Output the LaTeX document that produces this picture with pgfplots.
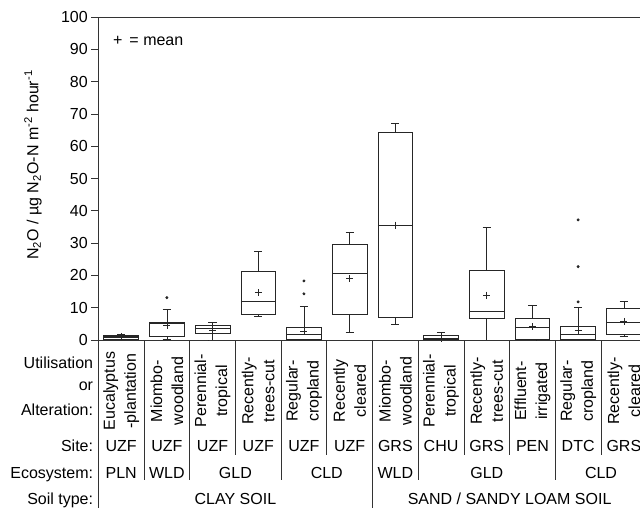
\documentclass[border=0pt]{standalone}
\usepackage{fontspec}
\setmainfont{Liberation Sans}
\usepackage{pgfplots}
\pgfplotsset{compat=1.18}
\usepgfplotslibrary{statistics}

\newcommand{\lbl}{\fontsize{16bp}{21bp}\selectfont}

\begin{document}
\begin{tikzpicture}
\begin{axis}[
    scale only axis,
    width=548.4bp, height=323bp,
    xmin=0.5, xmax=12.5,
    ymin=0, ymax=100,
    ytick={0,10,...,100},
    xtick=\empty,
    ytick pos=left,
    tick align=outside,
    major tick length=7bp,
    axis line style={black!80, line width=0.7pt},
    tick style={black!80, line width=0.7pt},
    tick label style={font=\lbl},
    /pgf/number format/assume math mode=true,
    clip=false,
    boxplot/draw direction=y,
    boxplot/box extend=0.76,
    boxplot/whisker extend=0.18,
    boxplot/every median/.style={line width=1.3pt},
    boxplot/every average/.style={/tikz/mark=+, /tikz/mark size=3.5bp},
]
\coordinate (O) at (rel axis cs:0,0);

% box plots (whiskers, quartiles, median, mean) + outliers
\addplot[black!85, line width=0.7pt, mark=*, mark size=1.1bp, boxplot prepared={draw position=1,
  lower whisker=0.1, lower quartile=0.3, median=0.9, upper quartile=1.4, upper whisker=1.8, average=1.0}]
  coordinates {};
\addplot[black!85, line width=0.7pt, mark=*, mark size=1.1bp, boxplot prepared={draw position=2,
  lower whisker=0.1, lower quartile=1.0, median=5.2, upper quartile=5.6, upper whisker=9.6, average=4.6}]
  coordinates {(2,13.1)};
\addplot[black!85, line width=0.7pt, mark=*, mark size=1.1bp, boxplot prepared={draw position=3,
  lower whisker=0.0, lower quartile=2.0, median=3.5, upper quartile=4.6, upper whisker=5.4, average=3.1}]
  coordinates {};
\addplot[black!85, line width=0.7pt, mark=*, mark size=1.1bp, boxplot prepared={draw position=4,
  lower whisker=7.2, lower quartile=7.8, median=11.9, upper quartile=21.3, upper whisker=27.5, average=14.6}]
  coordinates {};
\addplot[black!85, line width=0.7pt, mark=*, mark size=1.1bp, boxplot prepared={draw position=5,
  lower whisker=0.0, lower quartile=0.1, median=1.8, upper quartile=3.9, upper whisker=10.4, average=2.6}]
  coordinates {(5,14.3) (5,18.3)};
\addplot[black!85, line width=0.7pt, mark=*, mark size=1.1bp, boxplot prepared={draw position=6,
  lower whisker=2.3, lower quartile=7.8, median=20.5, upper quartile=29.7, upper whisker=33.2, average=19.1}]
  coordinates {};
\addplot[black!85, line width=0.7pt, mark=*, mark size=1.1bp, boxplot prepared={draw position=7,
  lower whisker=5.0, lower quartile=7.1, median=35.4, upper quartile=64.4, upper whisker=67.2, average=35.6}]
  coordinates {};
\addplot[black!85, line width=0.7pt, mark=*, mark size=1.1bp, boxplot prepared={draw position=8,
  lower whisker=0.0, lower quartile=0.05, median=0.3, upper quartile=1.4, upper whisker=2.3, average=0.6}]
  coordinates {};
\addplot[black!85, line width=0.7pt, mark=*, mark size=1.1bp, boxplot prepared={draw position=9,
  lower whisker=0.0, lower quartile=6.7, median=8.8, upper quartile=21.5, upper whisker=34.8, average=13.9}]
  coordinates {};
\addplot[black!85, line width=0.7pt, mark=*, mark size=1.1bp, boxplot prepared={draw position=10,
  lower whisker=0.0, lower quartile=0.2, median=3.9, upper quartile=6.8, upper whisker=10.6, average=4.1}]
  coordinates {};
\addplot[black!85, line width=0.7pt, mark=*, mark size=1.1bp, boxplot prepared={draw position=11,
  lower whisker=0.0, lower quartile=0.1, median=1.6, upper quartile=4.2, upper whisker=10.0, average=3.0}]
  coordinates {(11,11.8) (11,22.7) (11,37.2)};
\addplot[black!85, line width=0.7pt, mark=*, mark size=1.1bp, boxplot prepared={draw position=12,
  lower whisker=1.1, lower quartile=1.6, median=5.5, upper quartile=9.8, upper whisker=12.0, average=5.8}]
  coordinates {};

% zero marks under each box
\addplot[only marks, mark=-, mark size=4bp, line width=1pt, black!80]
  coordinates {(1,0)(2,0)(3,0)(4,0)(5,0)(6,0)(7,0)(8,0)(9,0)(10,0)(11,0)(12,0)};

\node[anchor=base west, font=\lbl, inner sep=0] at (axis cs:0.82,91.3) {+\hspace{7bp}= mean};
\node[rotate=90, font=\lbl] at (axis cs:-0.929,54.2)
  {N\textsubscript{2}O / µg N\textsubscript{2}O-N m\textsuperscript{-2} hour\textsuperscript{-1}};

% table below the axis
\draw[black!80, line width=0.7pt] (axis cs:0.5,0) -- (axis cs:0.5,-52);
\draw[black!80, line width=0.7pt] (axis cs:6.5,0) -- (axis cs:6.5,-52);
\pgfplotsinvokeforeach{1.5,2.5,4.5,7.5,10.5}{
  \draw[black!80, line width=0.7pt] (axis cs:#1,0) -- (axis cs:#1,-43.3);
}
\pgfplotsinvokeforeach{3.5,5.5,8.5,9.5,11.5}{
  \draw[black!80, line width=0.7pt] (axis cs:#1,0) -- (axis cs:#1,-35.6);
}

\node[anchor=base east, font=\lbl, inner sep=0] at (axis cs:0.39,-8.76) {Utilisation};
\node[anchor=base east, font=\lbl, inner sep=0] at (axis cs:0.39,-15.48) {or};
\node[anchor=base east, font=\lbl, inner sep=0] at (axis cs:0.39,-23.22) {Alteration:};
\node[anchor=base east, font=\lbl, inner sep=0] at (axis cs:0.39,-34.58) {Site:};
\node[anchor=base east, font=\lbl, inner sep=0] at (axis cs:0.39,-42.82) {Ecosystem:};
\node[anchor=base east, font=\lbl, inner sep=0] at (axis cs:0.39,-51.08) {Soil type:};

\node[rotate=90, font=\lbl, align=center, inner sep=0] at (axis cs:1,-15.8) {Eucalyptus\\-plantation};
\node[rotate=90, font=\lbl, align=center, inner sep=0] at (axis cs:2,-15.8) {Miombo-\\woodland};
\node[rotate=90, font=\lbl, align=center, inner sep=0] at (axis cs:3,-15.8) {Perennial-\\tropical};
\node[rotate=90, font=\lbl, align=center, inner sep=0] at (axis cs:4,-15.8) {Recently-\\trees-cut};
\node[rotate=90, font=\lbl, align=center, inner sep=0] at (axis cs:5,-15.8) {Regular-\\cropland};
\node[rotate=90, font=\lbl, align=center, inner sep=0] at (axis cs:6,-15.8) {Recently\\cleared};
\node[rotate=90, font=\lbl, align=center, inner sep=0] at (axis cs:7,-15.8) {Miombo-\\woodland};
\node[rotate=90, font=\lbl, align=center, inner sep=0] at (axis cs:8,-15.8) {Perennial-\\tropical};
\node[rotate=90, font=\lbl, align=center, inner sep=0] at (axis cs:9,-15.8) {Recently-\\trees-cut};
\node[rotate=90, font=\lbl, align=center, inner sep=0] at (axis cs:10,-15.8) {Effluent-\\irrigated};
\node[rotate=90, font=\lbl, align=center, inner sep=0] at (axis cs:11,-15.8) {Regular-\\cropland};
\node[rotate=90, font=\lbl, align=center, inner sep=0] at (axis cs:12,-15.8) {Recently-\\cleared};

\node[anchor=base, font=\lbl, inner sep=0] at (axis cs:1,-34.58) {UZF};
\node[anchor=base, font=\lbl, inner sep=0] at (axis cs:2,-34.58) {UZF};
\node[anchor=base, font=\lbl, inner sep=0] at (axis cs:3,-34.58) {UZF};
\node[anchor=base, font=\lbl, inner sep=0] at (axis cs:4,-34.58) {UZF};
\node[anchor=base, font=\lbl, inner sep=0] at (axis cs:5,-34.58) {UZF};
\node[anchor=base, font=\lbl, inner sep=0] at (axis cs:6,-34.58) {UZF};
\node[anchor=base, font=\lbl, inner sep=0] at (axis cs:7,-34.58) {GRS};
\node[anchor=base, font=\lbl, inner sep=0] at (axis cs:8,-34.58) {CHU};
\node[anchor=base, font=\lbl, inner sep=0] at (axis cs:9,-34.58) {GRS};
\node[anchor=base, font=\lbl, inner sep=0] at (axis cs:10,-34.58) {PEN};
\node[anchor=base, font=\lbl, inner sep=0] at (axis cs:11,-34.58) {DTC};
\node[anchor=base, font=\lbl, inner sep=0] at (axis cs:12,-34.58) {GRS};

\node[anchor=base, font=\lbl, inner sep=0] at (axis cs:1,-42.82) {PLN};
\node[anchor=base, font=\lbl, inner sep=0] at (axis cs:2,-42.82) {WLD};
\node[anchor=base, font=\lbl, inner sep=0] at (axis cs:3.5,-42.82) {GLD};
\node[anchor=base, font=\lbl, inner sep=0] at (axis cs:5.5,-42.82) {CLD};
\node[anchor=base, font=\lbl, inner sep=0] at (axis cs:7,-42.82) {WLD};
\node[anchor=base, font=\lbl, inner sep=0] at (axis cs:9,-42.82) {GLD};
\node[anchor=base, font=\lbl, inner sep=0] at (axis cs:11.5,-42.82) {CLD};

\node[anchor=base, font=\lbl, inner sep=0] at (axis cs:3.5,-51.08) {CLAY SOIL};
\node[anchor=base, font=\lbl, inner sep=0] at (axis cs:9.5,-51.08) {SAND / SANDY LOAM SOIL};
\end{axis}
\pgfresetboundingbox
\path (O) ++(-98.3bp,-170bp) rectangle ++(640bp,510bp);
\end{tikzpicture}
\end{document}
